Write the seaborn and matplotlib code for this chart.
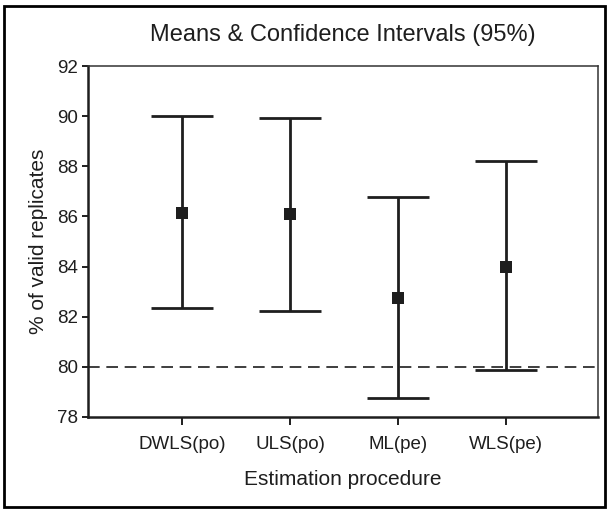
import matplotlib
matplotlib.use('Agg')
import matplotlib.pyplot as plt
import seaborn as sns
import numpy as np
from matplotlib.patches import Rectangle

procedures = ['DWLS(po)', 'ULS(po)', 'ML(pe)', 'WLS(pe)']
means = [86.13, 86.08, 82.75, 84.0]
ci_low = [82.33, 82.24, 78.75, 79.86]
ci_high = [90.0, 89.95, 86.79, 88.21]
threshold = 80

sns.set_theme(style='ticks')
plt.rcParams['font.family'] = ['Liberation Sans', 'DejaVu Sans']
ink = '#1e1e1e'

fig = plt.figure(figsize=(6.08, 5.09), dpi=100)
ax = fig.add_axes([0.145, 0.181, 0.839, 0.689])

m = np.array(means)
yerr = [m - np.array(ci_low), np.array(ci_high) - m]
ax.errorbar(procedures, means, yerr=yerr, fmt='none', ecolor=ink,
            elinewidth=2.0, capsize=22.5, capthick=2.0, zorder=2)
sns.scatterplot(x=procedures, y=means, marker='s', s=78, color=ink,
                edgecolor=ink, linewidth=0, ax=ax, zorder=3)

ax.axhline(threshold, color=ink, linestyle=(0, (7, 4)), linewidth=1.2, zorder=1)

ax.set_xlim(-0.87, 3.85)
ax.set_ylim(78, 92)
ax.set_yticks(range(78, 93, 2))
ax.set_title('Means & Confidence Intervals (95%)', fontsize=17, color=ink, pad=18)
ax.set_xlabel('Estimation procedure', fontsize=15, color=ink, labelpad=12)
ax.set_ylabel('% of valid replicates', fontsize=15, color=ink, labelpad=7)
ax.tick_params(axis='both', labelsize=13.5, colors=ink, width=1.4)
ax.tick_params(axis='x', length=6, pad=8)
ax.tick_params(axis='y', length=4, pad=3)

for side in ['left', 'bottom']:
    ax.spines[side].set_linewidth(1.8)
    ax.spines[side].set_color(ink)
for side in ['top', 'right']:
    ax.spines[side].set_visible(True)
    ax.spines[side].set_linewidth(1.1)
    ax.spines[side].set_color('#333333')

fig.patches.append(Rectangle((0.0066, 0.004), 0.988, 0.984, transform=fig.transFigure,
                             fill=False, edgecolor='black', linewidth=2))

fig.savefig('out.png', dpi=100)
